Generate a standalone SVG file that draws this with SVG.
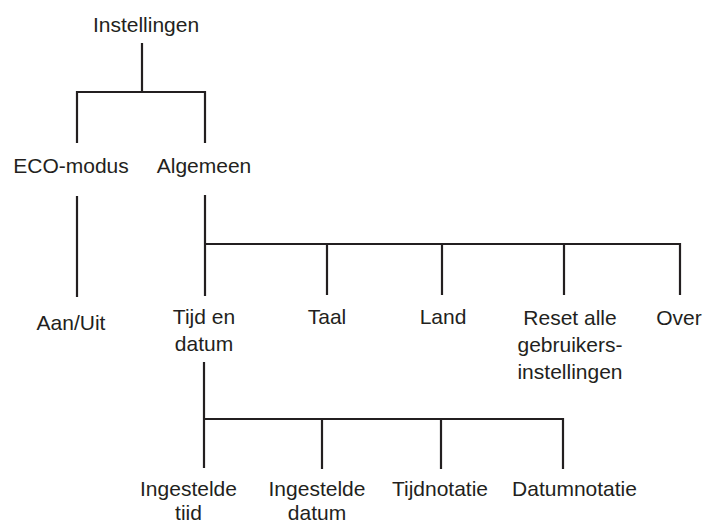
<svg xmlns="http://www.w3.org/2000/svg" width="703" height="522" viewBox="0 0 703 522">
<style>
text{font-family:"Liberation Sans",Arial,sans-serif;font-size:21px;fill:#231f20;text-anchor:middle}
.c path{fill:none;stroke:#231f20;stroke-width:2.2}
</style>
<rect width="703" height="522" fill="#fff"/>
<g class="c" id="connectors">
<path d="M142 43V92M77 143V92H205V143"/>
<path d="M77 196V297"/>
<path d="M205 195V296M205 244H680V295M327 244V295M442 244V295M564 244V295"/>
<path d="M204 362V468M204 419H563V469M322 419V469M441 419V469"/>
</g>
<g id="instellingen"><text x="146" y="32">Instellingen</text></g>
<g id="eco"><text x="71" y="173">ECO-modus</text></g>
<g id="algemeen"><text x="204" y="173">Algemeen</text></g>
<g id="aanuit"><text x="71" y="330">Aan/Uit</text></g>
<g id="tijddatum"><text x="204" y="324">Tijd en</text><text x="204" y="351">datum</text></g>
<g id="taal"><text x="327" y="324">Taal</text></g>
<g id="land"><text x="443" y="324">Land</text></g>
<g id="reset"><text x="570" y="325">Reset alle</text><text x="570" y="352">gebruikers-</text><text x="570" y="379">instellingen</text></g>
<g id="over"><text x="679" y="325">Over</text></g>
<g id="ingtijd"><text x="188.5" y="496">Ingestelde</text><text x="188.5" y="520">tiid</text></g>
<g id="ingdatum"><text x="317" y="496">Ingestelde</text><text x="317" y="520">datum</text></g>
<g id="tijdnotatie"><text x="440" y="496">Tijdnotatie</text></g>
<g id="datumnotatie"><text x="574.5" y="496">Datumnotatie</text></g>
</svg>
